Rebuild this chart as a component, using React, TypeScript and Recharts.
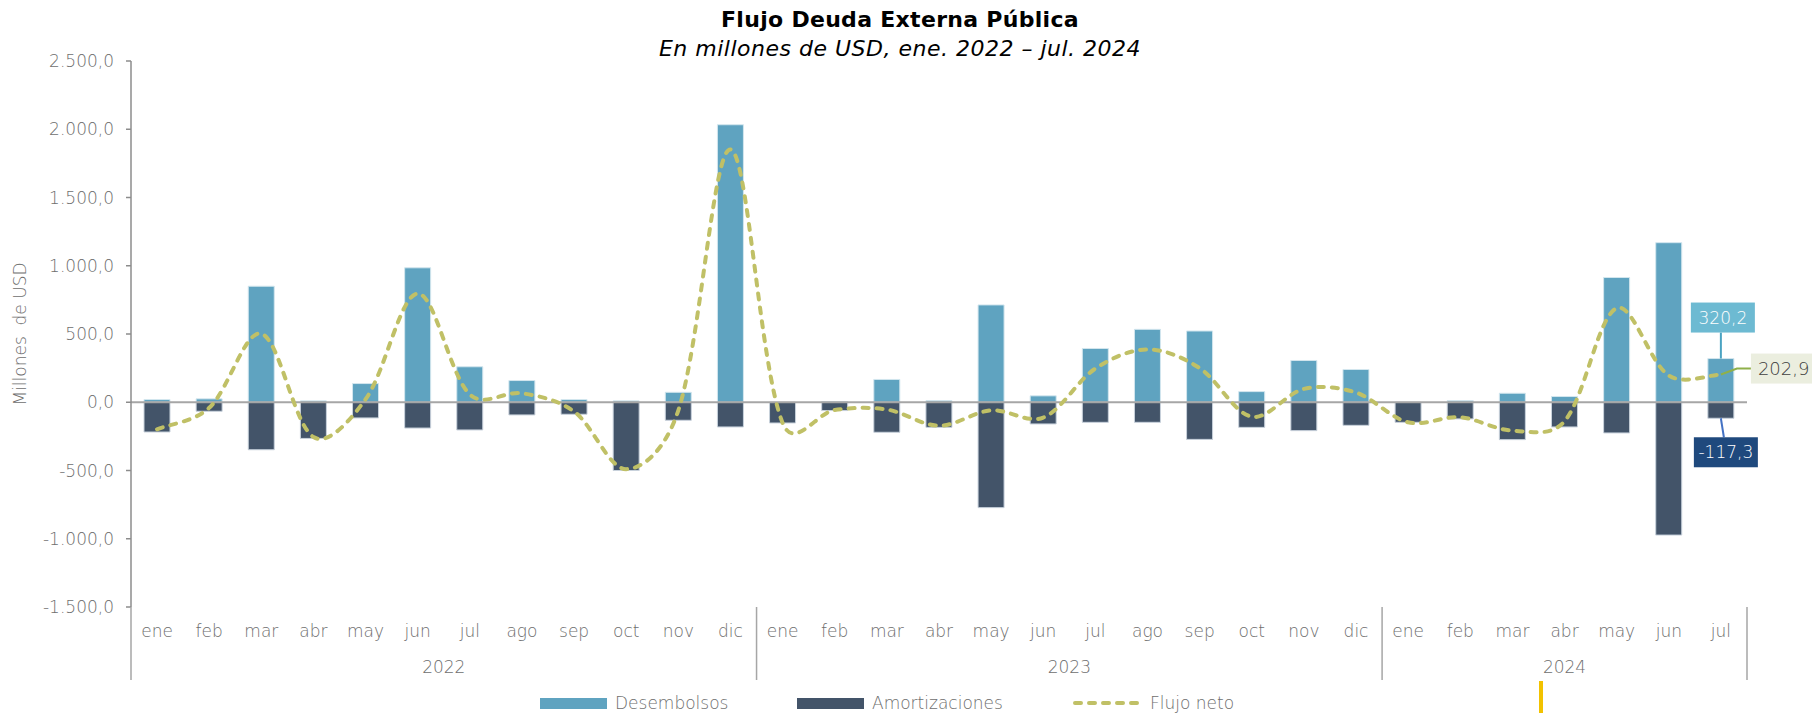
import React from 'react';
import { ComposedChart, Bar, Line, XAxis, YAxis, ReferenceLine, LabelList } from 'recharts';

// --- datos (millones de USD) ---
const meses = ['ene', 'feb', 'mar', 'abr', 'may', 'jun', 'jul', 'ago', 'sep', 'oct', 'nov', 'dic'];
const anios = ['2022', '2023', '2024'];
const mesesPorAnio = [12, 12, 7];

const desembolsos = [
  20, 25, 850, 10, 137, 985, 260, 159, 20, 10, 73, 2033,
  0, 5, 167, 12, 713, 47, 394, 534, 522, 78, 306, 240,
  0, 12, 66, 42, 914, 1169, 320.2,
];
const amortizaciones = [
  -218, -66, -348, -265, -115, -189, -203, -93, -88, -500, -132, -181,
  -152, -61, -220, -184, -772, -159, -147, -147, -272, -184, -208, -169,
  -147, -122, -274, -181, -225, -973, -117.3,
];
const flujoNeto = [
  -198, -41, 502, -255, 22, 796, 57, 66, -68, -490, -59, 1852,
  -152, -56, -53, -172, -59, -112, 247, 387, 250, -106, 98, 71,
  -147, -110, -208, -139, 689, 196, 202.9,
];
const yTicks = [-1500, -1000, -500, 0, 500, 1000, 1500, 2000, 2500];

const W = 1812;
const H = 713;
const PLOT_L = 131;
const PLOT_R = 1747;
const PLOT_T = 61;
const PLOT_B = 607;
const FONT = "'DejaVu Sans', 'Lato', sans-serif";
const LIGHT = 200;
const GRAY = '#6e6e6e';

const C_DES = '#5fa3c0';
const C_AMO = '#435469';
const C_NET = '#c0c066';

type Row = { key: string; mes: string; anio: string; m: number; g: number; des: number; amo: number; net: number };
const data: Row[] = [];
{
  let i = 0;
  anios.forEach((anio, g) => {
    for (let m = 0; m < mesesPorAnio[g]; m++) {
      data.push({ key: `${meses[m]} ${anio}`, mes: meses[m], anio, m, g, des: desembolsos[i], amo: amortizaciones[i], net: flujoNeto[i] });
      i++;
    }
  });
}
const rowByKey: Record<string, Row> = {};
data.forEach(r => (rowByKey[r.key] = r));
const lastIdx = data.length - 1;
const STEP = (PLOT_R - PLOT_L) / data.length;

function fmt(v: number) {
  const neg = v < 0;
  const [ent, dec] = Math.abs(v).toFixed(1).split('.');
  const grouped = ent.replace(/\B(?=(\d{3})+(?!\d))/g, '.');
  return `${neg ? '-' : ''}${grouped},${dec}`;
}

// Excel-like smoothed line: catmull-rom blended with chord-length weights
function excelCurve(context: any) {
  let pts: number[][] = [];
  const dist = (a: number[], b: number[]) => Math.hypot(b[0] - a[0], b[1] - a[1]);
  const k = (a: number[], p: number[], b: number[], after: boolean) => {
    const d1 = dist(a, p);
    const d2 = dist(p, b);
    const chord = d1 + d2 > 0 ? (after ? d2 : d1) / (d1 + d2) / 3 : 0;
    return (1 / 6 + chord) / 2;
  };
  return {
    areaStart() {},
    areaEnd() {},
    lineStart() {
      pts = [];
    },
    point(x: number, y: number) {
      pts.push([+x, +y]);
    },
    lineEnd() {
      const n = pts.length;
      if (!n) return;
      context.moveTo(pts[0][0], pts[0][1]);
      for (let i = 0; i < n - 1; i++) {
        const p0 = pts[Math.max(i - 1, 0)];
        const p1 = pts[i];
        const p2 = pts[i + 1];
        const p3 = pts[Math.min(i + 2, n - 1)];
        const ka = k(p0, p1, p2, true);
        const kb = k(p1, p2, p3, false);
        context.bezierCurveTo(
          p1[0] + (p2[0] - p0[0]) * ka,
          p1[1] + (p2[1] - p0[1]) * ka,
          p2[0] - (p3[0] - p1[0]) * kb,
          p2[1] - (p3[1] - p1[1]) * kb,
          p2[0],
          p2[1]
        );
      }
    },
  };
}

function geom(props: any) {
  const vb = props.viewBox || {};
  const x = props.x ?? vb.x;
  const y = props.y ?? vb.y;
  const width = props.width ?? vb.width ?? 0;
  const height = props.height ?? vb.height ?? 0;
  return { x: +x, y: +y, width: +width, height: +height };
}

// tags of the last month: amortización box below its bar, desembolso box above
// (desembolso bar top derived from the amortización bar's own pixel scale)
function BarTags(props: any) {
  if (props.index !== lastIdx) return null;
  const { x, y, width, height } = geom(props);
  const zeroY = Math.min(y, y + height);
  const bottom = Math.max(y, y + height);
  const pxPerUnit = Math.abs(height) / Math.abs(amortizaciones[lastIdx]);
  const desTop = zeroY - desembolsos[lastIdx] * pxPerUnit;
  const cx = x + width / 2;
  const bw = 64, bh = 30;
  return (
    <g fontFamily={FONT} fontWeight={LIGHT} fontSize={17}>
      <line x1={cx} y1={desTop - 26} x2={cx} y2={desTop} stroke="#4aa3c2" strokeWidth={2} />
      <rect x={cx - bw / 2 + 2} y={desTop - 26 - bh} width={bw} height={bh} fill="#6dbad2" />
      <text x={cx + 2} y={desTop - 26 - bh / 2 + 6} textAnchor="middle" fill="#ffffff">
        {fmt(desembolsos[lastIdx])}
      </text>
      <line x1={cx} y1={bottom} x2={cx + 3} y2={bottom + 19} stroke="#4472c4" strokeWidth={2} />
      <rect x={cx - bw / 2 + 5} y={bottom + 19} width={bw} height={bh} fill="#1f497d" />
      <text x={cx + 5} y={bottom + 19 + bh / 2 + 6} textAnchor="middle" fill="#ffffff">
        {fmt(amortizaciones[lastIdx])}
      </text>
    </g>
  );
}

function NetTag(props: any) {
  if (props.index !== lastIdx) return null;
  const { x, y } = geom(props);
  const by = y - 6;
  const bx = x + 30;
  return (
    <g>
      <polyline points={`${x},${y} ${x + 16},${by} ${bx},${by}`} fill="none" stroke="#8fb04a" strokeWidth={2} />
      <rect x={bx} y={by - 15} width={70} height={30} fill="#ebeedf" />
      <text x={bx + 7} y={by + 6} fill="#404040" fontSize={18} fontWeight={LIGHT} fontFamily={FONT}>
        {fmt(flujoNeto[lastIdx])}
      </text>
    </g>
  );
}

function MonthTick(props: any) {
  const { x, payload } = props;
  const row = rowByKey[payload.value];
  if (!row) return null;
  const n = mesesPorAnio[row.g];
  const left = x - STEP / 2;
  return (
    <g fontFamily={FONT} fontWeight={LIGHT} fontSize={17} fill={GRAY}>
      <text x={x} y={PLOT_B + 30} textAnchor="middle">
        {row.mes}
      </text>
      {row.m === 0 && (
        <>
          <line x1={left} y1={PLOT_B} x2={left} y2={680} stroke="#a6a6a6" strokeWidth={1.5} />
          <text x={left + (n * STEP) / 2} y={PLOT_B + 66} textAnchor="middle">
            {row.anio}
          </text>
        </>
      )}
      {payload.value === data[lastIdx].key && (
        <line x1={x + STEP / 2} y1={PLOT_B} x2={x + STEP / 2} y2={680} stroke="#a6a6a6" strokeWidth={1.5} />
      )}
    </g>
  );
}

function LegendItem({ kind, color, label }: { kind: 'bar' | 'line'; color: string; label: string }) {
  return (
    <div style={{ display: 'flex', alignItems: 'center', gap: 8 }}>
      {kind === 'bar' ? (
        <div style={{ width: 67, height: 11, background: color }} />
      ) : (
        <svg width={70} height={12}>
          <line x1={3} y1={6} x2={67} y2={6} stroke={color} strokeWidth={4} strokeDasharray="6 8" strokeLinecap="round" />
        </svg>
      )}
      <span>{label}</span>
    </div>
  );
}

export default function App() {
  return (
    <div style={{ position: 'absolute', left: 0, top: 0, width: W, height: H, background: '#fff', fontFamily: FONT, overflow: 'hidden' }}>
      <div style={{ position: 'absolute', top: 7, left: 0, width: 1800, textAlign: 'center', fontSize: 22, fontWeight: 700, color: '#000', letterSpacing: 0.3 }}>
        Flujo Deuda Externa Pública
      </div>
      <div style={{ position: 'absolute', top: 36, left: 0, width: 1800, textAlign: 'center', fontSize: 22, fontStyle: 'italic', fontWeight: LIGHT, color: '#000', letterSpacing: 0.5 }}>
        En millones de USD, ene. 2022 – jul. 2024
      </div>

      <ComposedChart
        width={W}
        height={H}
        data={data}
        stackOffset="sign"
        barSize={26}
        margin={{ top: PLOT_T, right: W - PLOT_R, bottom: 0, left: 0 }}
      >
        <XAxis dataKey="key" interval={0} axisLine={false} tickLine={false} height={H - PLOT_B} tick={<MonthTick />} />
        <YAxis
          width={PLOT_L}
          domain={[-1500, 2500]}
          ticks={yTicks}
          tickFormatter={fmt}
          stroke="#8c8c8c"
          strokeWidth={1.5}
          tickSize={5}
          tickMargin={12}
          tick={{ fill: GRAY, fontSize: 17, fontFamily: FONT, fontWeight: LIGHT }}
          label={{
            value: 'Millones\u00a0\u00a0de USD',
            angle: -90,
            position: 'insideLeft',
            offset: 20,
            style: { fill: GRAY, fontSize: 17, fontFamily: FONT, fontWeight: LIGHT, textAnchor: 'middle' },
          }}
        />
        <Bar dataKey="des" stackId="a" fill={C_DES} stroke="#d3e6ee" strokeWidth={1} isAnimationActive={false} />
        <Bar dataKey="amo" stackId="a" fill={C_AMO} stroke="#c9d2dc" strokeWidth={1} isAnimationActive={false}>
          <LabelList dataKey="amo" content={BarTags} />
        </Bar>
        <ReferenceLine y={0} stroke="#a6a6a6" strokeWidth={2} />
        <Line
          dataKey="net"
          type={excelCurve as any}
          stroke={C_NET}
          strokeWidth={4}
          strokeDasharray="6 8"
          strokeLinecap="round"
          dot={false}
          activeDot={false}
          isAnimationActive={false}
        >
          <LabelList dataKey="net" content={NetTag} />
        </Line>
      </ComposedChart>

      <div style={{ position: 'absolute', top: 693, left: 540, display: 'flex', fontSize: 17, fontWeight: LIGHT, color: GRAY }}>
        <div style={{ width: 257 }}>
          <LegendItem kind="bar" color={C_DES} label="Desembolsos" />
        </div>
        <div style={{ width: 275 }}>
          <LegendItem kind="bar" color={C_AMO} label="Amortizaciones" />
        </div>
        <LegendItem kind="line" color={C_NET} label="Flujo neto" />
      </div>
      <div style={{ position: 'absolute', left: 1539, top: 681, width: 4, height: 40, background: '#f2c200' }} />
    </div>
  );
}
